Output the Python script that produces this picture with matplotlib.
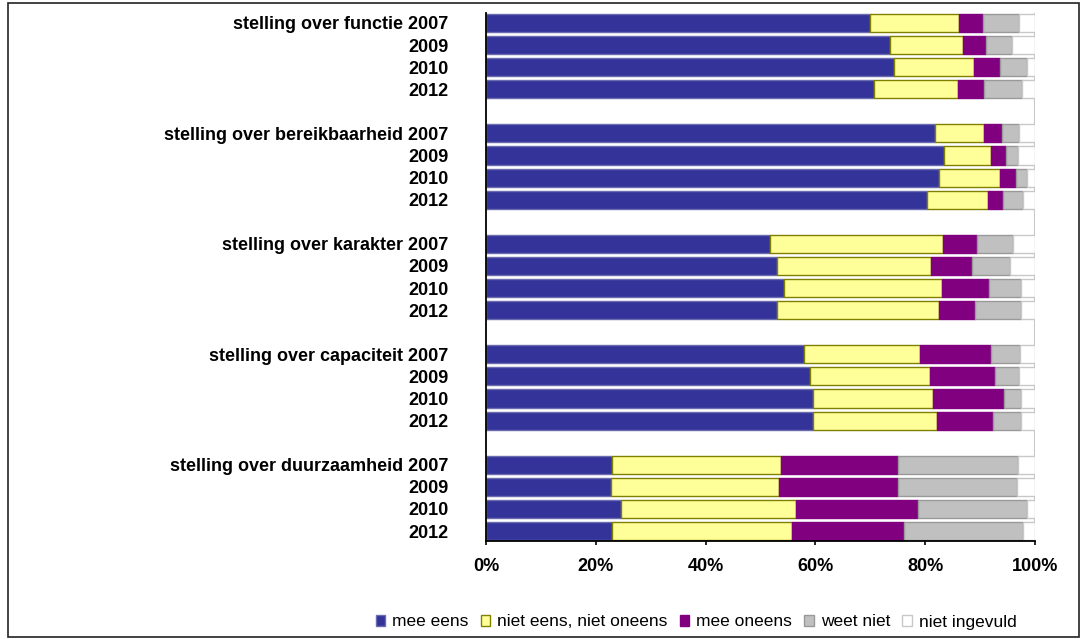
import matplotlib
matplotlib.use("Agg")
import matplotlib.pyplot as plt
from matplotlib.patches import Rectangle, Patch

plt.rcParams['font.family'] = ['Liberation Sans', 'DejaVu Sans']

# statements and survey years
stellingen = ['functie', 'bereikbaarheid', 'karakter', 'capaciteit', 'duurzaamheid']
jaren = ['2007', '2009', '2010', '2012']

# answer shares in %, one row per statement, one value per year
mee_eens = [
    [69.9, 73.6, 74.3, 70.6],
    [81.7, 83.5, 82.6, 80.4],
    [51.8, 53.0, 54.2, 53.0],
    [57.9, 59.1, 59.5, 59.5],
    [23.0, 22.7, 24.5, 23.0],
]
neutraal = [
    [16.3, 13.2, 14.6, 15.3],
    [9.1, 8.5, 11.0, 11.0],
    [31.5, 28.1, 28.8, 29.5],
    [21.1, 21.8, 22.0, 22.6],
    [30.7, 30.7, 32.0, 32.8],
]
mee_oneens = [
    [4.3, 4.3, 4.7, 4.9],
    [3.1, 2.8, 3.0, 2.8],
    [6.2, 7.5, 8.7, 6.6],
    [13.0, 11.9, 12.9, 10.2],
    [21.3, 21.6, 22.2, 20.3],
]
weet_niet = [
    [6.5, 4.7, 5.0, 6.8],
    [3.1, 2.1, 2.0, 3.7],
    [6.5, 6.8, 5.8, 8.4],
    [5.3, 4.2, 3.1, 5.2],
    [21.9, 21.7, 19.8, 21.7],
]
niet_ingevuld = [
    [3.0, 4.2, 1.4, 2.4],
    [3.0, 3.1, 1.4, 2.1],
    [4.0, 4.6, 2.5, 2.5],
    [2.7, 3.0, 2.5, 2.5],
    [3.1, 3.3, 1.5, 2.2],
]

reeksen = [
    ('mee eens', mee_eens, '#333399', '#6b6bb0'),
    ('niet eens, niet oneens', neutraal, '#ffff99', '#808000'),
    ('mee oneens', mee_oneens, '#800080', '#800080'),
    ('weet niet', weet_niet, '#c0c0c0', '#999999'),
    ('niet ingevuld', niet_ingevuld, '#ffffff', '#c8c8c8'),
]

fig = plt.figure(figsize=(10.85, 6.39), dpi=100)
ax = fig.add_axes((486 / 1085, 1 - 541 / 639, 549 / 1085, 528 / 639))

ypos = []
labels = []
for g, s in enumerate(stellingen):
    for j, jr in enumerate(jaren):
        ypos.append(g * 5 + j)
        labels.append(f'stelling over {s} {jr}' if j == 0 else jr)

links = [0.0] * len(ypos)
for naam, data, kleur, rand in reeksen:
    vals = [v for rij in data for v in rij]
    ax.barh(ypos, vals, left=links, height=0.82, color=kleur,
            edgecolor=rand, linewidth=1.0, label=naam)
    links = [a + b for a, b in zip(links, vals)]

ax.axvline(100, color='#c8c8c8', lw=1.5, zorder=0)

ax.set_xlim(0, 100)
ax.set_ylim(23.45, -0.45)
ax.set_xticks([0, 20, 40, 60, 80, 100])
ax.set_xticklabels(['0%', '20%', '40%', '60%', '80%', '100%'],
                   fontsize=13, fontweight='bold')
ax.set_yticks(ypos)
ax.set_yticklabels(labels, fontsize=13, fontweight='bold')
ax.tick_params(axis='y', length=0, pad=27)
ax.tick_params(axis='x', length=3, width=1.2, pad=9)
for kant in ['top', 'right']:
    ax.spines[kant].set_visible(False)
for kant in ['left', 'bottom']:
    ax.spines[kant].set_linewidth(1.3)

handles = [Patch(facecolor=k, edgecolor=r, linewidth=1.0) for _, _, k, r in reeksen]
fig.legend(handles, [r[0] for r in reeksen], loc='center', ncol=5,
           bbox_to_anchor=(696 / 1085, 1 - 622 / 639), frameon=False,
           fontsize=12.5, handlelength=0.55, handleheight=0.6,
           handletextpad=0.4, columnspacing=0.7)

# outer frame round the whole chart
fig.patches.append(Rectangle((8 / 1085, 2 / 639), 1071 / 1085, 634 / 639,
                             transform=fig.transFigure, fill=False,
                             edgecolor='#222222', linewidth=1.2))

fig.savefig('out.png', dpi=100)
